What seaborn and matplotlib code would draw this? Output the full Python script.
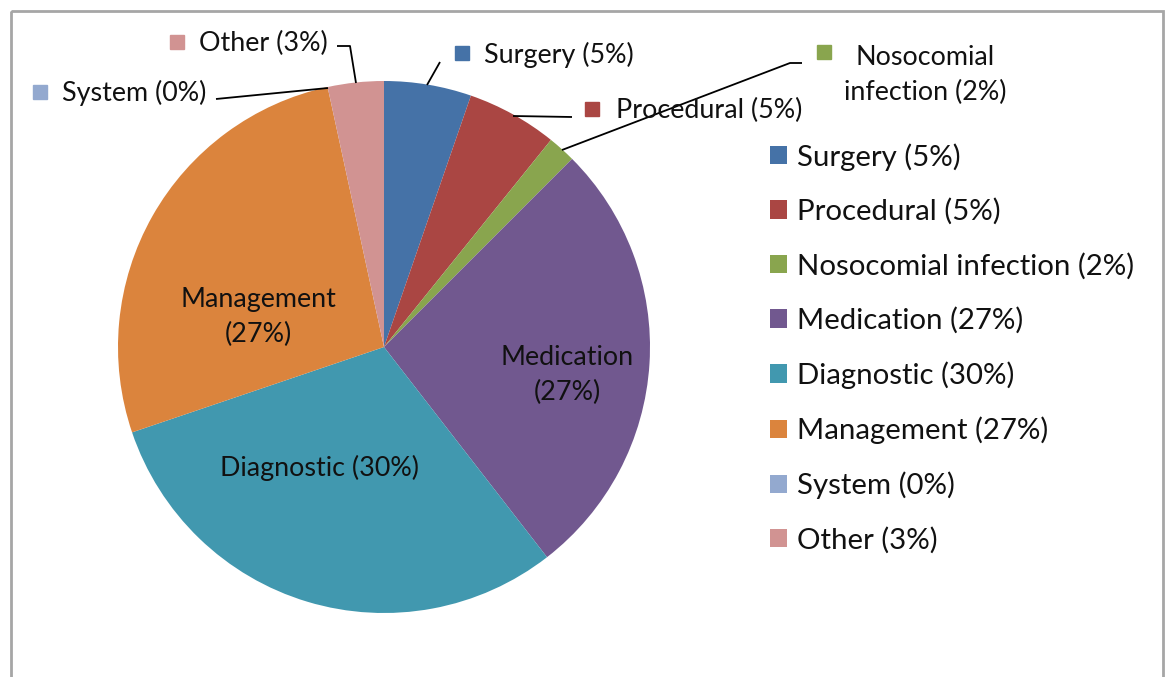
import matplotlib
matplotlib.use("Agg")
import matplotlib.pyplot as plt
import seaborn as sns
from matplotlib.patches import Rectangle

# ---- data ----
categories = ["Surgery", "Procedural", "Nosocomial infection", "Medication",
              "Diagnostic", "Management", "System", "Other"]
values = [5.3, 5.5, 1.7, 27.0, 30.3, 26.8, 0.0, 3.4]
pct_labels = ["5%", "5%", "2%", "27%", "30%", "27%", "0%", "3%"]
colors = ["#4572A7", "#AA4643", "#89A54E", "#71588F",
          "#4198AF", "#DB843D", "#93A9CF", "#D19392"]

legend_labels = [f"{c} ({p})" for c, p in zip(categories, pct_labels)]

sns.set_theme(style="white")
plt.rcParams["font.family"] = ["Lato", "DejaVu Sans"]

W, H = 1168, 677
fig = plt.figure(figsize=(W / 100, H / 100), dpi=100)
ax = fig.add_axes([0, 0, 1, 1])

# pie in pixel-like coordinates (y inverted)
cx, cy, r = 384, 347, 266
wedges, _ = ax.pie(values, colors=colors, startangle=-90, counterclock=True,
                   center=(cx, cy), radius=r,
                   wedgeprops=dict(linewidth=0))
ax.set_xlim(0, W)
ax.set_ylim(H, 0)
ax.set_aspect("equal")
ax.axis("off")

FS_LEG = 21.2
FS_LAB = 19.4
TXT = "#111111"
LSP = 1.5

# inner labels
ax.text(258, 317, "Management\n(27%)", ha="center", va="center",
        fontsize=FS_LAB, color=TXT, linespacing=LSP)
ax.text(567, 375, "Medication\n(27%)", ha="center", va="center",
        fontsize=FS_LAB, color=TXT, linespacing=LSP)
ax.text(319, 468, "Diagnostic (30%)", ha="center", va="center",
        fontsize=FS_LAB, color=TXT)

# outer labels with leader lines
def outer(idx, mx, my, tx, ty, text, line, ha="left"):
    ax.plot([mx], [my], marker="s", markersize=10.5, color=colors[idx],
            linestyle="none")
    ax.text(tx, ty, text, ha=ha, va="center", fontsize=FS_LAB,
            color=TXT, linespacing=LSP)
    xs, ys = zip(*line)
    ax.plot(xs, ys, color="black", linewidth=1.3, solid_capstyle="butt")

outer(7, 177, 42, 199, 43, legend_labels[7], [(337, 46), (350, 46), (356, 83)])
outer(6, 40, 92, 62, 93, legend_labels[6], [(216, 99), (328, 88)])
outer(0, 462, 53, 484, 55, legend_labels[0], [(440, 62), (427, 85)])
outer(1, 592, 109, 616, 110, legend_labels[1], [(513, 116), (572, 117)])
outer(2, 824, 52, 925, 75, "Nosocomial\ninfection (2%)",
      [(802, 63), (790, 63), (562, 150)], ha="center")

# legend
leg = ax.legend(wedges, legend_labels, loc="upper left",
                bbox_to_anchor=(770, 143), bbox_transform=ax.transData,
                frameon=False, fontsize=FS_LEG, handlelength=0.58,
                handleheight=0.58, handletextpad=0.34, labelspacing=0.935,
                borderpad=0, borderaxespad=0)
for t in leg.get_texts():
    t.set_color(TXT)

# chart border
ax.add_patch(Rectangle((11, 11), 1152, 720, fill=False, edgecolor="#A6A6A6",
                       linewidth=2, clip_on=False))

fig.savefig("out.png", dpi=100)
